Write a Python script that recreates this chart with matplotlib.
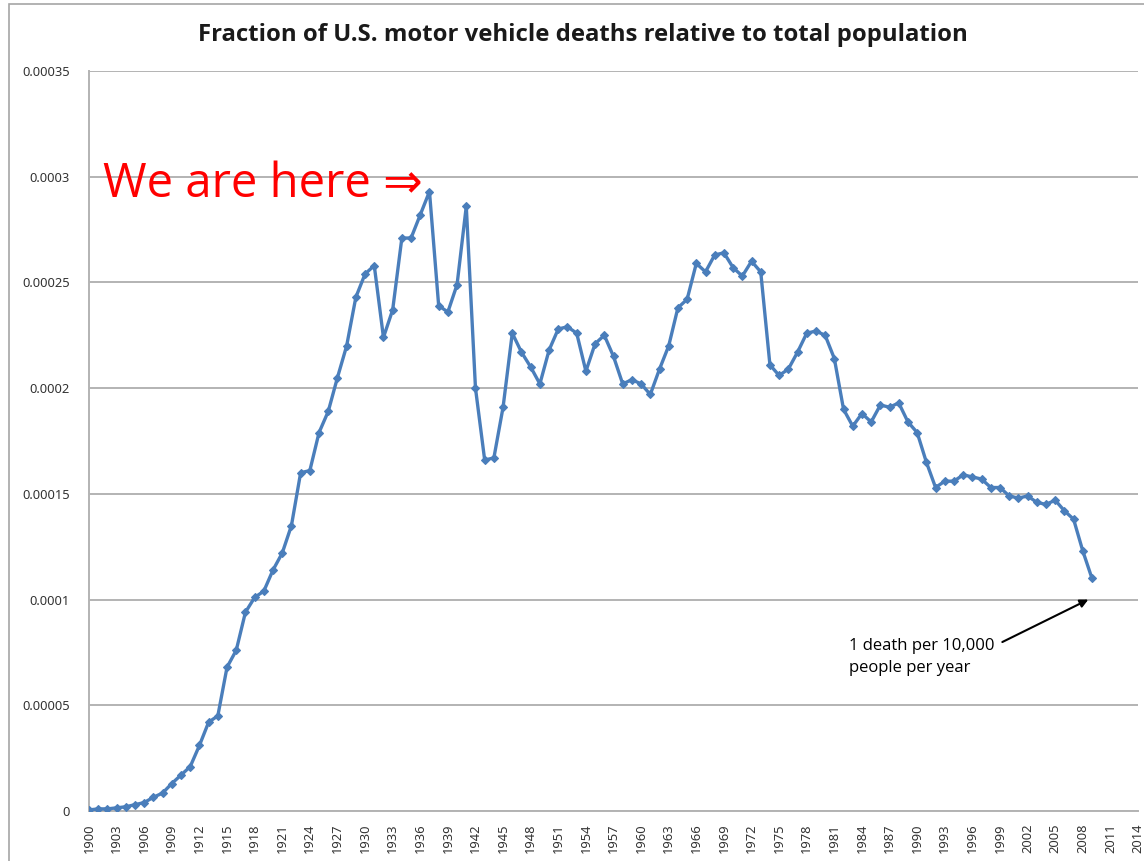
import numpy as np
import matplotlib.pyplot as plt
from matplotlib.patches import Rectangle

# Años y fracción de muertes (en unidades de 1e-5)
anios = np.arange(1900, 2010)
fraccion_e5 = [
    0.05, 0.1, 0.1, 0.15, 0.2, 0.3, 0.4, 0.65, 0.85, 1.3,
    1.7, 2.1, 3.1, 4.2, 4.5, 6.8, 7.6, 9.4, 10.1, 10.4,
    11.4, 12.2, 13.5, 16.0, 16.1, 17.9, 18.9, 20.5, 22.0, 24.3,
    25.4, 25.8, 22.4, 23.7, 27.1, 27.1, 28.2, 29.3, 23.9, 23.6,
    24.9, 28.6, 20.0, 16.6, 16.7, 19.1, 22.6, 21.7, 21.0, 20.2,
    21.8, 22.8, 22.9, 22.6, 20.8, 22.1, 22.5, 21.5, 20.2, 20.4,
    20.2, 19.7, 20.9, 22.0, 23.8, 24.2, 25.9, 25.5, 26.3, 26.4,
    25.7, 25.3, 26.0, 25.5, 21.1, 20.6, 20.9, 21.7, 22.6, 22.7,
    22.5, 21.4, 19.0, 18.2, 18.8, 18.4, 19.2, 19.1, 19.3, 18.4,
    17.9, 16.5, 15.3, 15.6, 15.6, 15.9, 15.8, 15.7, 15.3, 15.3,
    14.9, 14.8, 14.9, 14.6, 14.5, 14.7, 14.2, 13.8, 12.3, 11.0,
]
fraccion = np.array(fraccion_e5) * 1e-5

ticks_x = np.arange(1900, 2015, 3)
ticks_y = [0, 0.00005, 0.0001, 0.00015, 0.0002, 0.00025, 0.0003, 0.00035]
etiquetas_y = ['0', '0.00005', '0.0001', '0.00015', '0.0002', '0.00025', '0.0003', '0.00035']

W, H = 1144, 861
fig = plt.figure(figsize=(W / 100, H / 100), dpi=100)

# marco exterior del gráfico
fig.patches.append(Rectangle((9 / W, -0.01), 1.2, 1 - 4 / H + 0.01,
                             transform=fig.transFigure, fill=False,
                             edgecolor='#a6a6a6', linewidth=1.2))

izq, der, arriba, abajo = 89, 1138, 71, 811
ax = fig.add_axes([izq / W, 1 - abajo / H, (der - izq) / W, (abajo - arriba) / H])

ax.plot(anios, fraccion, '-D', color='#4a7ebb', linewidth=2.4,
        markersize=4.2, markeredgewidth=0.8, zorder=3)

ax.set_xlim(1900, 2014)
ax.set_ylim(0, 0.00035)
ax.set_xticks(ticks_x)
ax.set_xticklabels([str(t) for t in ticks_x], rotation=90)
ax.set_yticks(ticks_y)
ax.set_yticklabels(etiquetas_y)
ax.tick_params(length=0, labelsize=9.3, labelcolor='#333333', pad=14)
ax.tick_params(axis='x', pad=9)
for lbl in ax.get_xticklabels() + ax.get_yticklabels():
    lbl.set_family(['Noto Sans', 'DejaVu Sans'])

ax.grid(axis='y', color='#b3b3b3', linewidth=1.4)
ax.set_axisbelow(True)
for lado in ['top', 'right']:
    ax.spines[lado].set_visible(False)
ax.spines['left'].set_color('#b3b3b3')
ax.spines['bottom'].set_color('#b3b3b3')
ax.spines['left'].set_linewidth(1.4)
ax.spines['bottom'].set_linewidth(1.4)

fig.text(583 / W, 1 - 35 / H,
         'Fraction of U.S. motor vehicle deaths relative to total population',
         ha='center', va='center', fontsize=17.2, fontweight='bold',
         family=['Open Sans', 'DejaVu Sans'], color='#1a1a1a')

ax.text(1901.5, 0.0002965, 'We are here \u21d2', color='#ff0000', fontsize=34,
        family=['Open Sans', 'DejaVu Sans'], va='center', ha='left')

ax.annotate('1 death per 10,000\npeople per year', xy=(2008.6, 0.0001),
            xytext=(1982.6, 0.0000728), fontsize=12,
            family=['Open Sans', 'DejaVu Sans'], ha='left', va='center',
            linespacing=1.45,
            arrowprops=dict(arrowstyle='-|>', color='black', lw=1.5,
                            shrinkA=4, shrinkB=0,
                            relpos=(1.0, 0.8)))

fig.savefig('out.png', dpi=100)
